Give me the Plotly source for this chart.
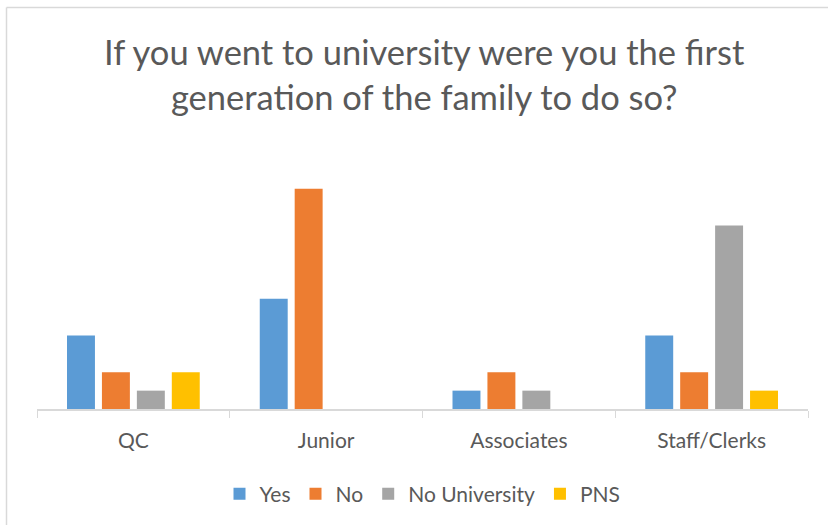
import plotly.graph_objects as go

categories = ["QC", "Junior", "Associates", "Staff/Clerks"]
yes = [4, 6, 1, 4]
no = [2, 12, 2, 2]
no_university = [1, 0, 1, 10]
pns = [2, 0, 0, 1]

series = [
    ("Yes", yes, "#5B9BD5"),
    ("No", no, "#ED7D31"),
    ("No University", no_university, "#A5A5A5"),
    ("PNS", pns, "#FFC000"),
]

fig = go.Figure()
for name, vals, color in series:
    fig.add_bar(x=categories, y=vals, name=name, marker=dict(color=color, line=dict(width=0)))

W, H = 828, 525
L, R, T, B = 37, 20, 152, 115
pw, ph = W - L - R, H - T - B


def px(x):
    return (x - L) / pw


def py(y):
    return (H - B - y) / ph


fig.update_layout(
    width=W,
    height=H,
    margin=dict(l=L, r=R, t=T, b=B, pad=0),
    paper_bgcolor="white",
    plot_bgcolor="white",
    font=dict(family="Lato, Open Sans, sans-serif", color="#595959"),
    barmode="group",
    bargap=0.275,
    bargroupgap=0.2,
    showlegend=True,
    legend=dict(
        orientation="h",
        x=0.5,
        xanchor="center",
        y=py(494),
        yanchor="middle",
        font=dict(size=21, color="#595959"),
        itemwidth=30,
        traceorder="normal",
    ),
    xaxis=dict(
        range=[-0.5, 3.5],
        showline=True,
        linecolor="#D9D9D9",
        linewidth=1.5,
        ticks="outside",
        tickson="boundaries",
        ticklen=7,
        tickcolor="#D9D9D9",
        ticklabelstandoff=12,
        tickfont=dict(size=21, color="#595959"),
        showgrid=False,
    ),
    yaxis=dict(
        range=[0, 14],
        visible=False,
        showgrid=False,
    ),
    annotations=[
        dict(
            text="If you went to university were you the first<br>generation of the family to do so?",
            xref="paper",
            yref="paper",
            x=px(424),
            y=py(74),
            xanchor="center",
            yanchor="middle",
            showarrow=False,
            font=dict(size=34.5, color="#595959"),
        )
    ],
    shapes=[
        dict(type="line", xref="paper", yref="paper", x0=px(6.5), x1=px(830), y0=py(7), y1=py(7),
             line=dict(color="#D9D9D9", width=1.5)),
        dict(type="line", xref="paper", yref="paper", x0=px(6.5), x1=px(6.5), y0=py(7), y1=py(530),
             line=dict(color="#D9D9D9", width=1.5)),
    ],
)

fig.write_html(
    "out.html",
    config={"displayModeBar": False},
    post_script="document.body.style.margin='0px';",
)
